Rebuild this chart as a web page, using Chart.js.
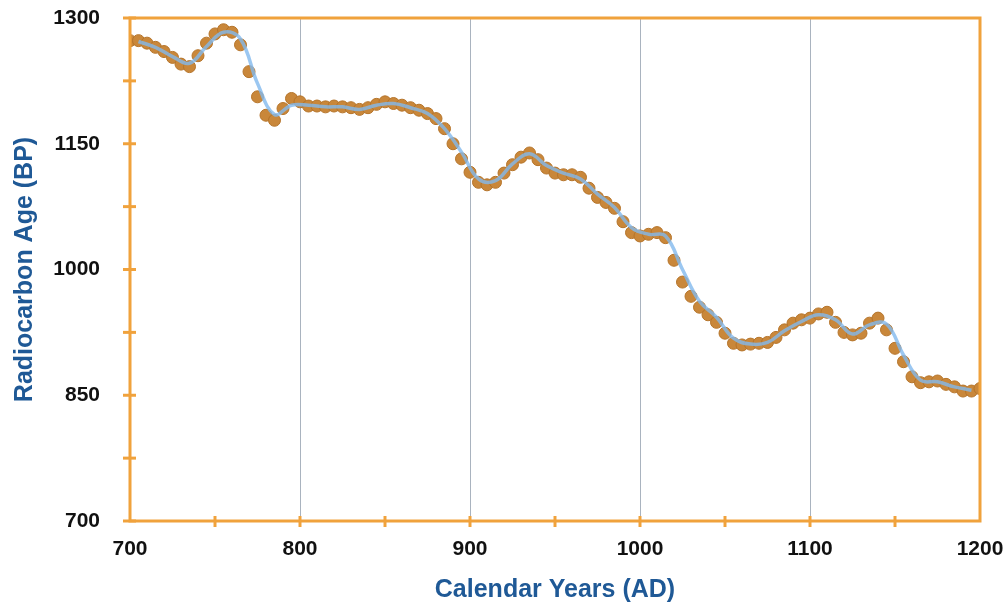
<!DOCTYPE html>
<html>
<head>
<meta charset="utf-8">
<script src="https://cdn.jsdelivr.net/npm/chart.js@4.4.1/dist/chart.umd.min.js"></script>
<style>
  html, body { margin: 0; padding: 0; background: #fff; }
  #wrap { width: 1003px; height: 602px; }
</style>
</head>
<body>
<div id="wrap"><canvas id="c14Chart" width="1003" height="602"></canvas></div>
<script>
// calendar years of the measured samples (every 5 years)
const sampleYears = [];
for (let y = 700; y <= 1200; y += 5) sampleYears.push(y);

// radiocarbon ages
const sampleAges = [
  1273, 1273, 1270, 1265, 1260, 1253, 1245, 1242, 1255, 1270,
  1281, 1286, 1283, 1268, 1236, 1206, 1184, 1178, 1192, 1204,
  1200, 1195, 1195, 1194, 1195, 1194, 1193, 1191, 1193, 1197,
  1200, 1198, 1196, 1193, 1190, 1186, 1180, 1168, 1150, 1132,
  1116, 1104, 1101, 1104, 1115, 1125, 1134, 1139, 1131, 1121,
  1115, 1113, 1113, 1110, 1097, 1086, 1080, 1073, 1057, 1044,
  1040, 1042, 1044, 1038, 1011, 985, 968, 955, 946, 937,
  924, 912, 910, 911, 912, 913, 919, 928, 936, 940,
  942, 947, 949, 937, 925, 922, 924, 936, 942, 928,
  906, 890, 872, 865, 866, 867, 863, 860, 855, 855,
  858
];

// smooth calibration curve (light blue line)
const curveYears = [705, 715, 725, 735, 745, 755, 765, 775, 785, 795,
  805, 815, 825, 835, 845, 855, 865, 875, 885, 895,
  905, 915, 925, 935, 945, 955, 965, 975, 985, 995,
  1005, 1015, 1025, 1035, 1045, 1055, 1065, 1075, 1085, 1095,
  1105, 1115, 1125, 1135, 1145, 1155, 1165, 1175, 1185, 1195];
const curveAges = [1272, 1265, 1254, 1246, 1266, 1283, 1275, 1222, 1185, 1196,
  1196, 1194, 1194, 1191, 1196, 1198, 1193, 1186, 1168, 1140,
  1108, 1106, 1126, 1138, 1124, 1115, 1108, 1090, 1074, 1050,
  1042, 1040, 1000, 962, 943, 918, 911, 913, 927, 938,
  946, 940, 923, 934, 935, 898, 868, 866, 860, 856];

const orange = '#f0a23c';
const labelFont = { family: 'Liberation Sans, Arial, sans-serif', size: 21, weight: 'bold' };
const titleFont = { family: 'Liberation Sans, Arial, sans-serif', size: 25, weight: 'bold' };

// orange frame and crossing tick marks
const framePlugin = {
  id: 'frame',
  afterDraw(chart) {
    const ctx = chart.ctx;
    const a = chart.chartArea;
    ctx.save();
    ctx.strokeStyle = orange;
    ctx.lineWidth = 3;
    ctx.strokeRect(a.left, a.top, a.right - a.left, a.bottom - a.top);
    chart.scales.x.ticks.forEach(t => {
      const px = chart.scales.x.getPixelForValue(t.value);
      if (px <= a.left + 2 || px >= a.right - 2) return;
      ctx.beginPath();
      ctx.moveTo(px, a.bottom - 5);
      ctx.lineTo(px, a.bottom + 6);
      ctx.stroke();
    });
    chart.scales.y.ticks.forEach(t => {
      const py = chart.scales.y.getPixelForValue(t.value);
      ctx.beginPath();
      ctx.moveTo(a.left - 7, py);
      ctx.lineTo(a.left + 6, py);
      ctx.stroke();
    });
    ctx.restore();
  }
};

const points = sampleYears.map((x, i) => ({x: x, y: sampleAges[i]}));
const curve = curveYears.map((x, i) => ({x: x, y: curveAges[i]}));

new Chart(document.getElementById('c14Chart'), {
  type: 'scatter',
  data: {
    datasets: [
      {
        label: 'Calibration curve',
        data: curve,
        showLine: true,
        borderColor: 'rgba(130,185,238,0.8)',
        borderWidth: 3.5,
        tension: 0.4,
        pointRadius: 0,
        order: 0
      },
      {
        label: 'Samples',
        data: points,
        showLine: false,
        backgroundColor: '#c9873a',
        borderColor: '#b5742a',
        borderWidth: 1,
        pointRadius: 6,
        order: 1
      }
    ]
  },
  options: {
    responsive: false,
    animation: false,
    layout: { autoPadding: false, padding: { top: 18, right: 23, left: 10, bottom: 0 } },
    plugins: {
      legend: { display: false },
      tooltip: { enabled: false }
    },
    scales: {
      x: {
        type: 'linear',
        min: 700,
        max: 1200,
        afterFit: s => { s.height = 81; s.paddingLeft = 0; s.paddingRight = 0; },
        ticks: {
          stepSize: 50,
          padding: 16,
          color: '#111',
          font: labelFont,
          callback: v => (v % 100 === 0 ? String(v) : '')
        },
        grid: {
          drawTicks: false,
          color: c => (c.tick && c.tick.value % 100 === 0 && c.tick.value > 700 && c.tick.value < 1200) ? '#a9b3bf' : 'rgba(0,0,0,0)',
          lineWidth: 1
        },
        border: { display: false },
        title: {
          display: true,
          text: 'Calendar Years (AD)',
          color: '#1f5996',
          font: titleFont,
          padding: { top: 11, bottom: -3 }
        }
      },
      y: {
        min: 700,
        max: 1300,
        afterFit: s => { s.width = 120; s.paddingTop = 0; s.paddingBottom = 0; },
        ticks: {
          stepSize: 75,
          padding: 30,
          color: '#111',
          font: labelFont,
          callback: v => ((v - 700) % 150 === 0 ? String(v) : '')
        },
        grid: { display: false, drawTicks: false },
        border: { display: false },
        title: {
          display: true,
          text: 'Radiocarbon Age (BP)',
          color: '#1f5996',
          font: titleFont,
          padding: { top: 0, bottom: 0 }
        }
      }
    }
  },
  plugins: [framePlugin]
});
</script>
</body>
</html>
